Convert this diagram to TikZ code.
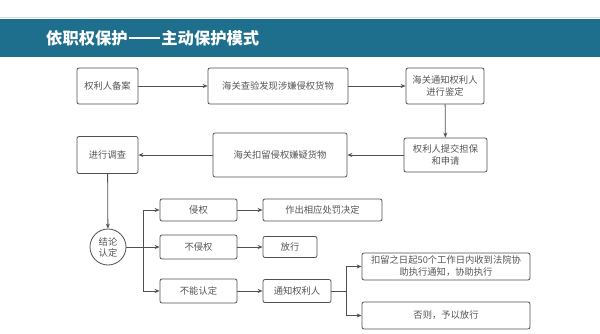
\documentclass[tikz,border=0pt]{standalone}
\usepackage{fontspec}
\setmainfont{Noto Sans CJK SC}
\usetikzlibrary{arrows.meta}
\definecolor{barblue}{RGB}{30,111,142}
\definecolor{lncol}{RGB}{80,80,80}
\definecolor{txcol}{RGB}{85,85,85}
\definecolor{topline}{RGB}{215,222,228}
\tikzset{
  box/.style={draw=lncol, line width=0.8pt, rounded corners=2pt, fill=white, text=txcol,
    font=\fontsize{9.3}{12}\selectfont, align=center, inner sep=0pt},
  arr/.style={draw=lncol, line width=0.8pt, -{Stealth[length=5pt,width=4pt]}},
  link/.style={draw=lncol, line width=0.8pt}
}
\begin{document}
\begin{tikzpicture}[x=1pt,y=-1pt]
\useasboundingbox (0,0) rectangle (600,334);
\fill[white] (0,0) rectangle (600,334);
\draw[topline, line width=0.8pt] (0,17) -- (600,17);
\fill[barblue] (0,19) rectangle (600,57);
\node[anchor=west, text=white, inner sep=0pt, font=\fontsize{16.3}{18}\selectfont\bfseries] (title) at (46,38) {依职权保护\hspace{0.06em}\rule[0.33em]{1.95em}{0.11em}\hspace{0.06em}主动保护模式};

\node[box, minimum width=61pt, minimum height=36pt] (a) at (107.5,86) {权利人备案};
\node[box, minimum width=140pt, minimum height=36pt] (b) at (278,86) {海关查验发现涉嫌侵权货物};
\node[box, minimum width=78pt, minimum height=36pt] (c) at (445,86) {海关通知权利人\\进行鉴定};
\node[box, minimum width=83pt, minimum height=34pt] (d) at (445.5,155) {权利人提交担保\\和申请};
\node[box, minimum width=134pt, minimum height=44pt] (e) at (280,155) {海关扣留侵权嫌疑货物};
\node[box, minimum width=61pt, minimum height=37pt] (f) at (107.5,155) {进行调查};
\node[draw=lncol, line width=0.8pt, circle, minimum size=36pt, inner sep=0pt, text=txcol, align=center,
  font=\fontsize{9.3}{11}\selectfont] (g) at (108,247) {结论\\认定};

\node[box, minimum width=77pt, minimum height=22pt] (h1) at (198.5,210) {侵权};
\node[box, minimum width=77pt, minimum height=24pt] (h2) at (198.5,247) {不侵权};
\node[box, minimum width=77pt, minimum height=24pt] (h3) at (198.5,291) {不能认定};
\node[box, minimum width=119pt, minimum height=22pt] (i1) at (322.5,210) {作出相应处罚决定};
\node[box, minimum width=54pt, minimum height=21pt] (i2) at (290,247) {放行};
\node[box, minimum width=68pt, minimum height=23pt] (i3) at (297,291) {通知权利人};
\node[box, minimum width=168pt, minimum height=27pt] (j1) at (446,266.5) {扣留之日起50个工作日内收到法院协\\助执行通知，协助执行};
\node[box, minimum width=168pt, minimum height=27pt] (j2) at (446,315.5) {否则，予以放行};

\draw[arr] (a) -- (b);
\draw[arr] (b) -- (c);
\draw[arr] (c) -- (d);
\draw[arr] (d) -- (e);
\draw[arr] (e.west) -- (e.west -| f.east);
\draw[arr] (f) -- (g);

\coordinate (k1) at (143,247);
\draw[arr] (g.east) -- (h2.west);
\draw[arr] (k1) |- (h1.west);
\draw[arr] (k1) |- (h3.west);
\draw[arr] (h1) -- (i1);
\draw[arr] (h2) -- (i2);
\draw[arr] (h3) -- (i3);

\coordinate (k2) at (346,291);
\draw[link] (i3.east) -- (k2);
\draw[arr] (k2) |- (j1.west);
\draw[arr] (k2) |- (j2.west);
\end{tikzpicture}
\end{document}
